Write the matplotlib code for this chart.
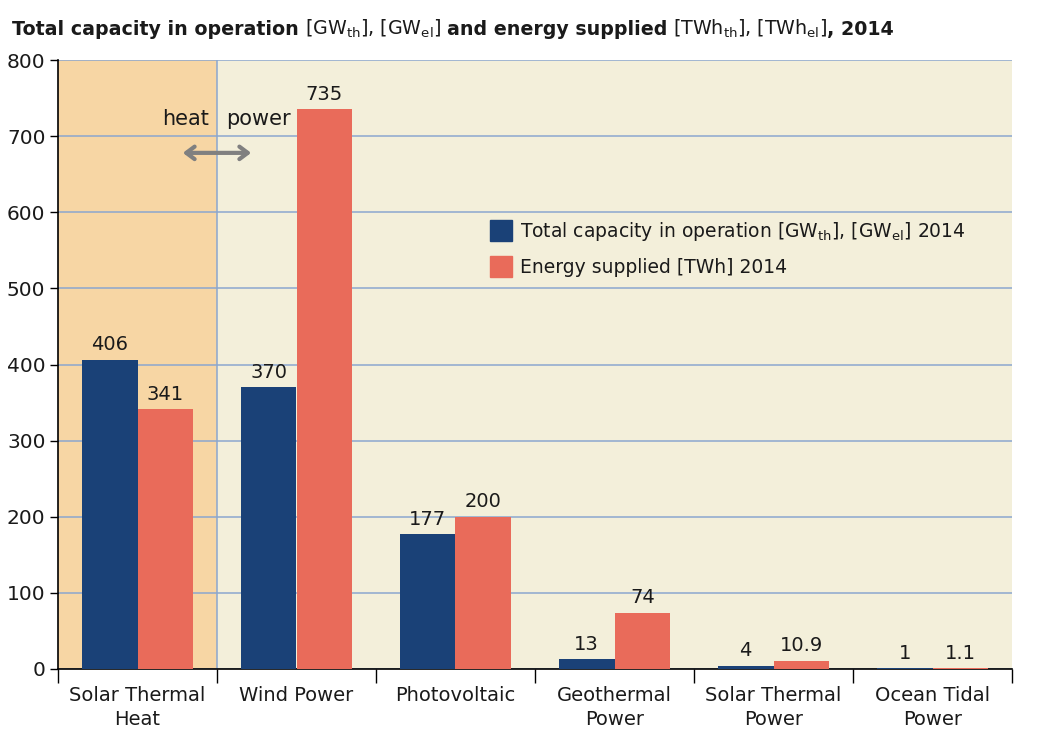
import matplotlib
matplotlib.use("Agg")
import matplotlib.pyplot as plt
import numpy as np
from matplotlib.patches import Patch

categories = ["Solar Thermal\nHeat", "Wind Power", "Photovoltaic",
              "Geothermal\nPower", "Solar Thermal\nPower", "Ocean Tidal\nPower"]
capacity = [406, 370, 177, 13, 4, 1]
energy = [341, 735, 200, 74, 10.9, 1.1]
capacity_labels = ["406", "370", "177", "13", "4", "1"]
energy_labels = ["341", "735", "200", "74", "10.9", "1.1"]
yticks = [0, 100, 200, 300, 400, 500, 600, 700, 800]

BLUE = "#1a4177"
RED = "#e96b5a"
BG = "#f3efda"
HEAT_BG = "#f7d6a4"
GRID = "#8ba7cf"
TXT = "#1a1a1a"

plt.rcParams['font.family'] = ['DejaVu Sans']
plt.rcParams['mathtext.fontset'] = 'dejavusans'

W, H = 1037, 743
fig = plt.figure(figsize=(W / 100, H / 100), dpi=100)
ax = fig.add_axes([58 / W, 1 - 669 / H, (1012 - 58) / W, (669 - 60) / H])
ax.set_facecolor(BG)

x = np.arange(len(categories))
bw = 0.35
ax.axvspan(-0.5, 0.5, color=HEAT_BG, zorder=0, lw=0)
ax.set_xlim(-0.5, len(categories) - 0.5)
ax.set_ylim(0, 800)
ax.set_yticks(yticks)
ax.yaxis.grid(True, color=GRID, lw=1.1, zorder=1)
ax.set_axisbelow(True)
ax.axvline(0.5, color=GRID, lw=1.1, zorder=1)

ax.bar(x - bw / 2, capacity, bw, color=BLUE, zorder=3)
ax.bar(x + bw / 2, energy, bw, color=RED, zorder=3)

for xi, v, lab in zip(x, capacity, capacity_labels):
    ax.annotate(lab, (xi - bw / 2, v), xytext=(0, 4), textcoords="offset points",
                ha="center", va="bottom", fontsize=14, color=TXT)
for xi, v, lab in zip(x, energy, energy_labels):
    ax.annotate(lab, (xi + bw / 2, v), xytext=(0, 4), textcoords="offset points",
                ha="center", va="bottom", fontsize=14, color=TXT)

# x axis: ticks at boundaries, labels at centres
ax.set_xticks(np.arange(-0.5, len(categories)), minor=False)
ax.set_xticklabels([])
ax.tick_params(axis="x", which="major", length=10, width=1, direction="out")
ax.set_xticks(x, minor=True)
ax.set_xticklabels(categories, minor=True, fontsize=14, color=TXT, linespacing=1.35)
ax.tick_params(axis="x", which="minor", length=0, pad=12)
ax.tick_params(axis="y", length=6, width=1, labelsize=14.5, colors="black",
               labelcolor=TXT, pad=3)

for s in ["top", "right"]:
    ax.spines[s].set_visible(False)
for s in ["left", "bottom"]:
    ax.spines[s].set_color("black")
    ax.spines[s].set_linewidth(1.2)

# heat / power annotation
ax.text(0.30, 723, "heat", ha="center", va="center", fontsize=15, color=TXT)
ax.text(0.76, 723, "power", ha="center", va="center", fontsize=15, color=TXT)
ax.annotate("", xy=(0.285, 678), xytext=(0.715, 678),
            arrowprops=dict(arrowstyle="<->,head_length=0.6,head_width=0.45",
                            color="#808080", lw=3, shrinkA=0, shrinkB=0), zorder=4)

# legend
handles = [Patch(color=BLUE), Patch(color=RED)]
labels = [r"Total capacity in operation [GW$_{\mathrm{th}}$], [GW$_{\mathrm{el}}$] 2014",
          "Energy supplied [TWh] 2014"]
leg = ax.legend(handles, labels, loc="upper left", bbox_to_anchor=(0.445, 0.75),
                frameon=False, fontsize=13.5, handlelength=1.15, handleheight=1.35,
                handletextpad=0.45, labelspacing=0.7, borderaxespad=0)
for t in leg.get_texts():
    t.set_color(TXT)

# title built from pieces
renderer = fig.canvas.get_renderer()
pieces = [
    ("Total capacity in operation", "bold", 6),
    (r"[GW$_{\mathrm{th}}$], [GW$_{\mathrm{el}}$]", "normal", 6),
    ("and energy supplied", "bold", 6),
    (r"[TWh$_{\mathrm{th}}$], [TWh$_{\mathrm{el}}$]", "normal", 0),
    (", 2014", "bold", 0),
]
xpos = 12 / W
ypos = 1 - 35 / H
for txt, wt, gap in pieces:
    t = fig.text(xpos, ypos, txt, fontsize=13.7, fontweight=wt, color=TXT,
                 ha="left", va="baseline")
    bb = t.get_window_extent(renderer=renderer)
    xpos += (bb.width + gap) / W

fig.savefig("out.png", dpi=100)
